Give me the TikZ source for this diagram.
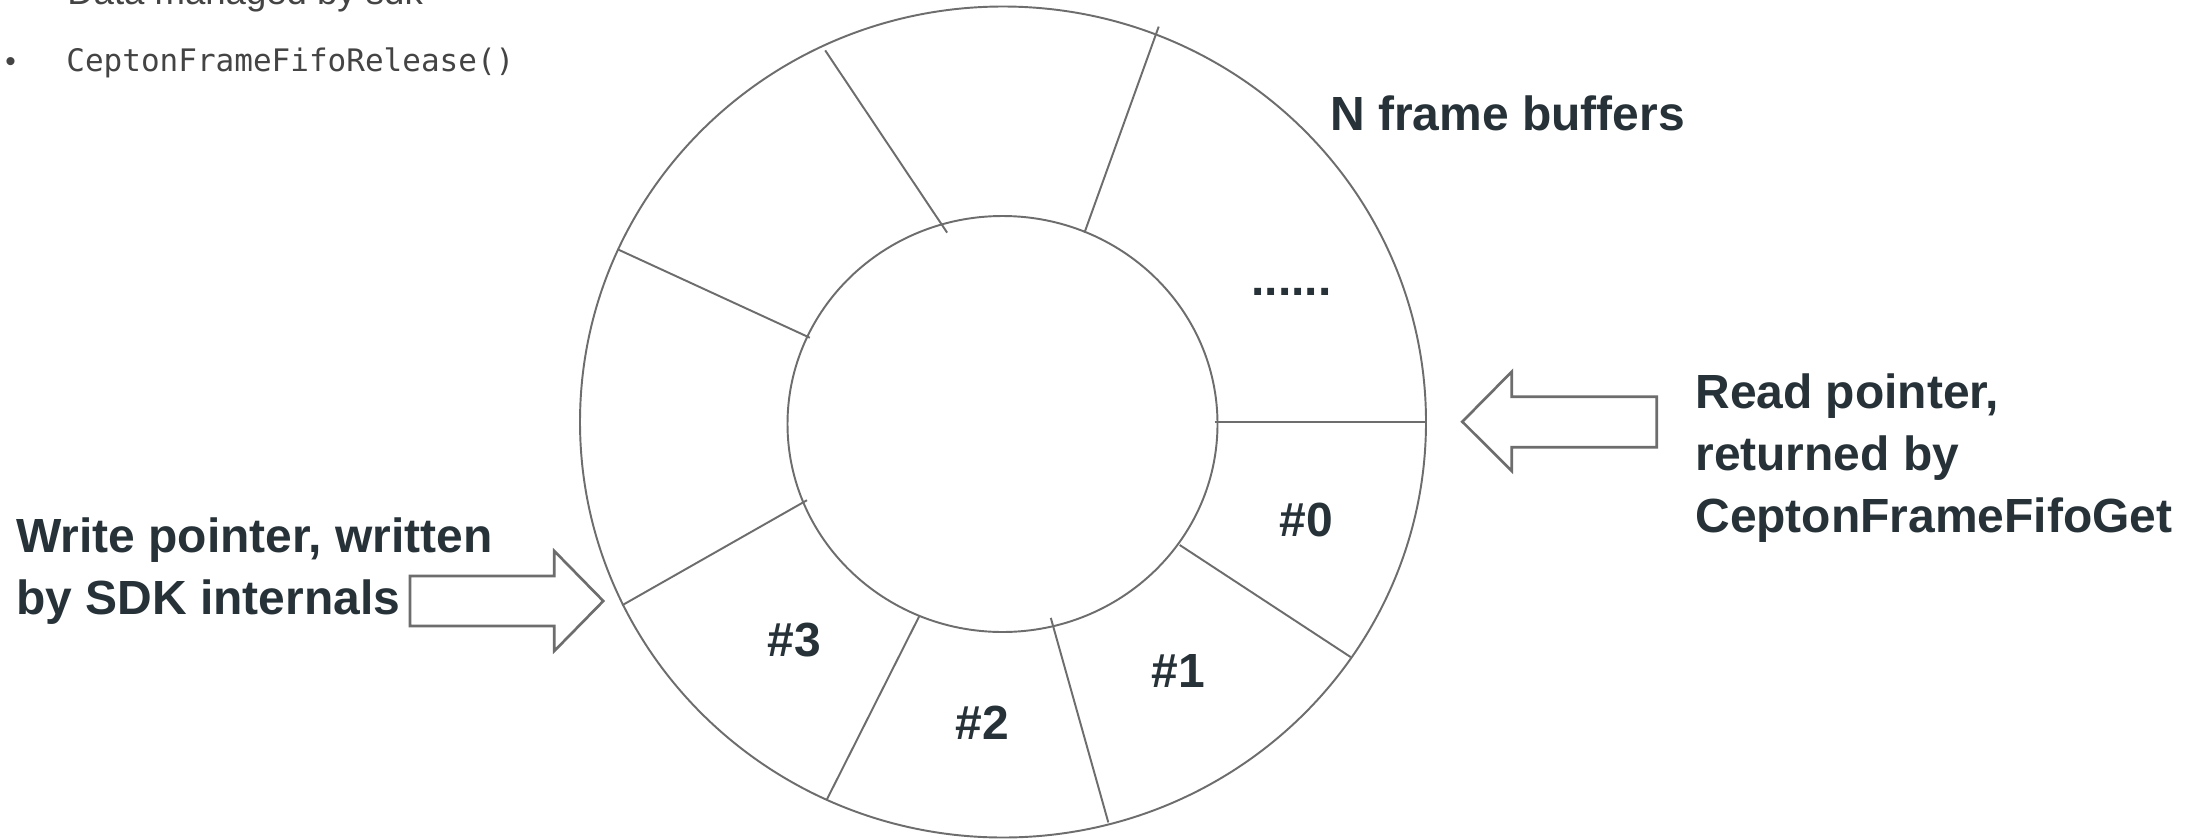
\documentclass[tikz,border=0pt]{standalone}
\usepackage{fontspec}
\setmainfont{Liberation Sans}
\newfontfamily\codefont{DejaVu Sans Mono}
\definecolor{ink}{HTML}{263238}
\definecolor{rim}{HTML}{6D6D6D}
\definecolor{note}{HTML}{444444}
\begin{document}
\begin{tikzpicture}[x=0.02cm, y=-0.02cm,
  ring/.style={draw=rim, line width=1.1pt},
  divider/.style={draw=rim, line width=1.1pt},
  blockarrow/.style={draw=rim, line width=1.5pt, fill=white, line join=miter},
  label/.style={inner sep=0pt, text=ink, font=\fontsize{27.3}{35}\selectfont\bfseries},
  slot/.style={label, anchor=center},
  codeline/.style={inner sep=0pt, text=note, anchor=base west}
]
\clip (0,0) rectangle (2197,839);
\fill[white] (0,0) rectangle (2197,839);

% header bullet list (partly cut off at the top)
\node[codeline, font=\fontsize{20.8}{24}\selectfont] (datanote) at (67,4) {Data managed by sdk};
\node[codeline, font=\fontsize{17}{20}\selectfont] (bullet) at (5,71) {\textbullet};
\node[codeline, font=\codefont\fontsize{17.65}{20}\selectfont] (release) at (66,71) {CeptonFrameFifoRelease()};

% ring buffer: outer and inner rims
\draw[ring] (1003,422) ellipse [x radius=423, y radius=415.5];
\draw[ring] (1002.5,424) ellipse [x radius=215, y radius=208];

% slot dividers
\draw[divider] (1214.7,421.7) -- (1426.3,421.7);
\draw[divider] (1179.7,545.0) -- (1350.7,657.1);
\draw[divider] (1050.8,617.9) -- (1108.3,822.4);
\draw[divider] (919.1,616.5) -- (826.6,800.0);
\draw[divider] (807.0,500.2) -- (622.1,605.3);
\draw[divider] (809.8,337.7) -- (617.9,249.4);
\draw[divider] (947.1,232.6) -- (825.2,50.4);
\draw[divider] (1084.5,232.6) -- (1158.7,26.6);

% slot labels
\node[slot] (s0) at (1306,520) {\#0};
\node[slot] (s1) at (1178,671) {\#1};
\node[slot] (s2) at (982,723) {\#2};
\node[slot] (s3) at (794,640) {\#3};
\node[label, anchor=base west] (more) at (1251,295) {......};
\node[label, anchor=base west] (title) at (1330,130) {N frame buffers};

% write pointer
\draw[blockarrow] (410,576) -- (554.3,576) -- (554.3,551) -- (603.3,601)
  -- (554.3,651) -- (554.3,626) -- (410,626) -- cycle;
\node[label, anchor=base west] (w1) at (16,552) {Write pointer, written};
\node[label, anchor=base west] (w2) at (16,614) {by SDK internals};

% read pointer
\draw[blockarrow] (1462.3,421.7) -- (1511.7,371.7) -- (1511.7,396.7) -- (1656.7,396.7)
  -- (1656.7,447.3) -- (1511.7,447.3) -- (1511.7,471) -- cycle;
\node[label, anchor=base west] (r1) at (1695,408) {Read pointer,};
\node[label, anchor=base west] (r2) at (1695,470) {returned by};
\node[label, anchor=base west] (r3) at (1695,532) {CeptonFrameFifoGet};
\end{tikzpicture}
\end{document}
